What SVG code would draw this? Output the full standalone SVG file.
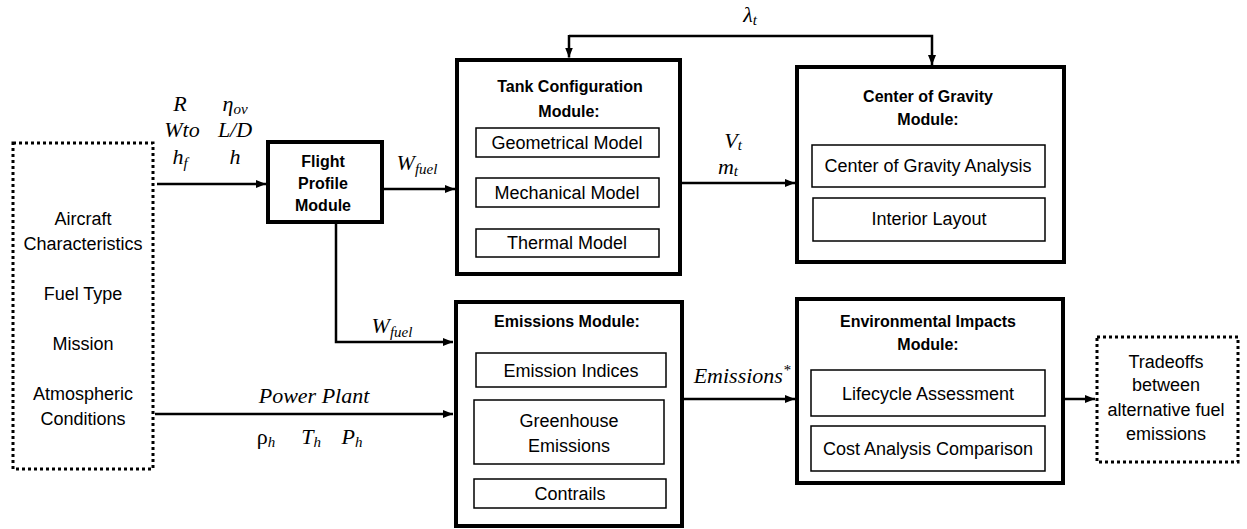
<svg xmlns="http://www.w3.org/2000/svg" width="1247" height="529" viewBox="0 0 1247 529">
<defs>
<marker id="ah" markerWidth="10" markerHeight="8" refX="10" refY="4" orient="auto" markerUnits="userSpaceOnUse"><path d="M0,0 L10,4 L0,8 z" fill="#000"/></marker>
<style>
.mod{fill:#fff;stroke:#000;stroke-width:4}
.sub{fill:#fff;stroke:#000;stroke-width:1.5}
.dot{fill:#fff;stroke:#000;stroke-width:3;stroke-dasharray:3 3}
.t{font-family:"Liberation Sans",Arial,sans-serif;font-size:18px;fill:#000;text-anchor:middle}
.b{font-family:"Liberation Sans",Arial,sans-serif;font-size:16px;font-weight:bold;fill:#000;text-anchor:middle}
.m{font-family:"Liberation Serif","Times New Roman",serif;font-style:italic;font-size:22px;fill:#000;text-anchor:middle}
.s{font-size:15px}
.c{fill:none;stroke:#000;stroke-width:2.5}
</style>
</defs>
<rect width="1247" height="529" fill="#fff"/>

<g id="connectors">
<path class="c" d="M157,184 H266" marker-end="url(#ah)"/>
<path class="c" d="M382,189 H455" marker-end="url(#ah)"/>
<path class="c" d="M336,222 V342 H453" marker-end="url(#ah)"/>
<path class="c" d="M155,414 H453" marker-end="url(#ah)"/>
<path class="c" d="M680,183 H795" marker-end="url(#ah)"/>
<path class="c" d="M569,36 H932 V65" marker-end="url(#ah)"/>
<path class="c" d="M569,35 V57.5" marker-end="url(#ah)"/>
<path class="c" d="M682,399 H795" marker-end="url(#ah)"/>
<path class="c" d="M1064,399 H1095" marker-end="url(#ah)"/>
</g>

<g id="labels">
<text class="m" x="180" y="111">R</text>
<text class="m" x="235" y="111">η<tspan class="s" dy="3">ov</tspan></text>
<text class="m" x="182" y="137">Wto</text>
<text class="m" x="235" y="137">L/D</text>
<text class="m" x="180" y="164">h<tspan class="s" dy="4">f</tspan></text>
<text class="m" x="235" y="164">h</text>
<text class="m" x="417" y="170">W<tspan class="s" dy="4">fuel</tspan></text>
<text class="m" x="392" y="333">W<tspan class="s" dy="4">fuel</tspan></text>
<text class="m" x="314" y="403">Power Plant</text>
<text class="m" x="266" y="444" style="font-style:normal">ρ<tspan class="s" style="font-style:italic" dy="3">h</tspan></text>
<text class="m" x="311" y="444">T<tspan class="s" dy="3">h</tspan></text>
<text class="m" x="352" y="444">P<tspan class="s" dy="3">h</tspan></text>
<text class="m" x="733" y="148">V<tspan class="s" dy="2">t</tspan></text>
<text class="m" x="728" y="174">m<tspan class="s" dy="2">t</tspan></text>
<text class="m" x="750" y="22">λ<tspan class="s" dy="3">t</tspan></text>
<text class="m" x="742" y="383">Emissions<tspan class="s" dy="-8">*</tspan></text>
</g>

<g id="inputs">
<rect class="dot" x="13" y="143" width="140" height="326"/>
<text class="t" x="83" y="225">Aircraft</text>
<text class="t" x="83" y="250">Characteristics</text>
<text class="t" x="83" y="300">Fuel Type</text>
<text class="t" x="83" y="350">Mission</text>
<text class="t" x="83" y="400">Atmospheric</text>
<text class="t" x="83" y="425">Conditions</text>
</g>

<g id="flight-profile">
<rect class="mod" x="268" y="142" width="114" height="80"/>
<text class="b" x="323" y="167">Flight</text>
<text class="b" x="323" y="189">Profile</text>
<text class="b" x="323" y="211">Module</text>
</g>

<g id="tank">
<rect class="mod" x="457" y="60" width="223" height="214"/>
<text class="b" x="570" y="92">Tank Configuration</text>
<text class="b" x="569" y="117">Module:</text>
<rect class="sub" x="476" y="128" width="183" height="29"/>
<text class="t" x="567" y="149">Geometrical Model</text>
<rect class="sub" x="476" y="178" width="183" height="29"/>
<text class="t" x="567" y="199">Mechanical Model</text>
<rect class="sub" x="476" y="229" width="183" height="28"/>
<text class="t" x="567" y="249">Thermal Model</text>
</g>

<g id="cog">
<rect class="mod" x="797" y="67" width="267" height="195"/>
<text class="b" x="928" y="102">Center of Gravity</text>
<text class="b" x="928" y="125">Module:</text>
<rect class="sub" x="812" y="145" width="233" height="42"/>
<text class="t" x="928" y="172">Center of Gravity Analysis</text>
<rect class="sub" x="813" y="198" width="232" height="43"/>
<text class="t" x="929" y="225">Interior Layout</text>
</g>

<g id="emissions">
<rect class="mod" x="456" y="302" width="226" height="224"/>
<text class="b" x="567" y="327">Emissions Module:</text>
<rect class="sub" x="476" y="353" width="190" height="34"/>
<text class="t" x="571" y="377">Emission Indices</text>
<rect class="sub" x="474" y="400" width="190" height="64"/>
<text class="t" x="569" y="427">Greenhouse</text>
<text class="t" x="569" y="452">Emissions</text>
<rect class="sub" x="474" y="479" width="192" height="29"/>
<text class="t" x="570" y="500">Contrails</text>
</g>

<g id="environmental">
<rect class="mod" x="797" y="299" width="266" height="184"/>
<text class="b" x="928" y="327">Environmental Impacts</text>
<text class="b" x="928" y="350">Module:</text>
<rect class="sub" x="811" y="370" width="234" height="46"/>
<text class="t" x="928" y="400">Lifecycle Assessment</text>
<rect class="sub" x="811" y="426" width="234" height="45"/>
<text class="t" x="928" y="455">Cost Analysis Comparison</text>
</g>

<g id="tradeoffs">
<rect class="dot" x="1097" y="337" width="141" height="125"/>
<text class="t" x="1166" y="368">Tradeoffs</text>
<text class="t" x="1166" y="391">between</text>
<text class="t" x="1166" y="416">alternative fuel</text>
<text class="t" x="1166" y="440">emissions</text>
</g>
</svg>
